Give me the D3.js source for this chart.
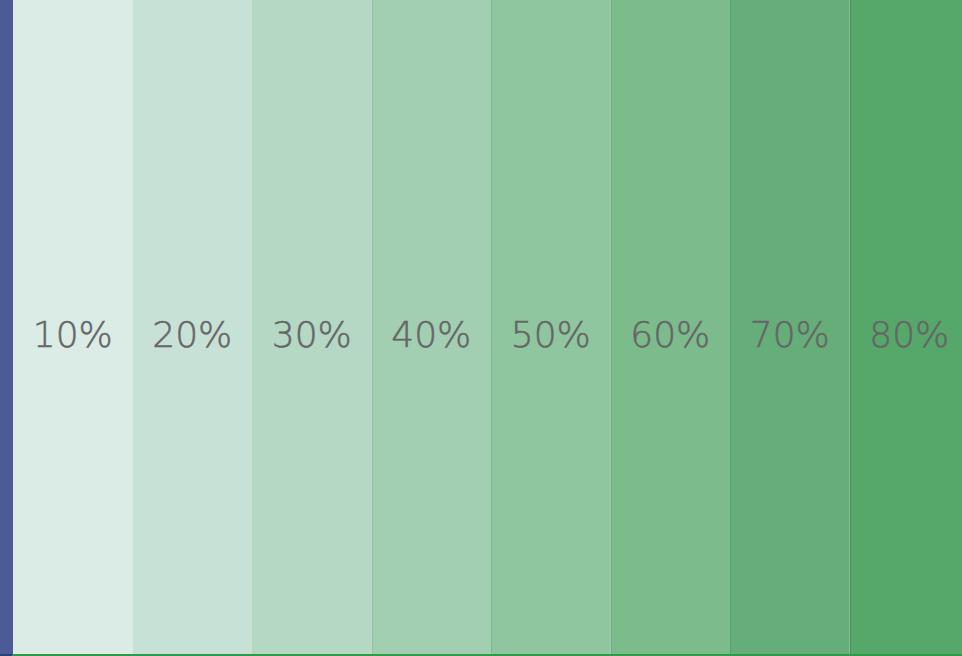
<!DOCTYPE html>
<html lang="en">
<head>
  <meta charset="utf-8">
  <title>Shades</title>
  <script src="https://d3js.org/d3.v7.min.js"></script>
  <style>
    html, body { margin: 0; padding: 0; background: #fff; overflow: hidden; }
  </style>
</head>
<body>
  <div id="stage"></div>
  <script>
    // strip labels and fill colours, light to dark
    var labels = ["10%", "20%", "30%", "40%", "50%", "60%", "70%", "80%"];
    var fills = ["#dbebe6", "#c8e1d6", "#b4d8c4", "#a2cfb2", "#8fc69f", "#7cbb8c", "#66ae79", "#55a869"];
    var edges = ["#dbebe6", "#c8e1d6", "#b4d8c4", "#8cc29e", "#7cb98c", "#6aae7a", "#58a169", "#43965a"];

    var W = 962, H = 656;
    var svg = d3.select("#stage").append("svg").attr("width", W).attr("height", H);

    var x = d3.scaleBand().domain(labels).range([13, 13 + 119.5 * 8]).padding(0);

    svg.selectAll("rect.strip").data(labels).enter().append("rect")
      .attr("class", "strip")
      .attr("x", function (d) { return x(d); })
      .attr("y", 0)
      .attr("width", x.bandwidth())
      .attr("height", 654)
      .style("fill", function (d, i) { return fills[i]; });

    // thin darker edge on the left of each strip
    svg.selectAll("line.edge").data(labels).enter().append("line")
      .attr("x1", function (d) { return Math.round(x(d)) + 0.5; })
      .attr("x2", function (d) { return Math.round(x(d)) + 0.5; })
      .attr("y1", 0).attr("y2", 654)
      .style("stroke", function (d, i) { return edges[i]; });

    svg.selectAll("text.lbl").data(labels).enter().append("text")
      .attr("class", "lbl")
      .attr("x", function (d) { return x(d) + x.bandwidth() / 2; })
      .attr("y", 347)
      .attr("text-anchor", "middle")
      .style("font-family", "'DejaVu Sans', sans-serif")
      .style("font-weight", 200)
      .style("font-size", "36px")
      .style("fill", "#666")
      .style("stroke", "#666")
      .style("stroke-width", 0.5)
      .text(function (d) { return d; });

    // blue marker on the left, green rule at the bottom
    svg.append("rect").attr("x", 0).attr("y", 0).attr("width", 13).attr("height", 654).style("fill", "#4c5a96");
    svg.append("rect").attr("x", 0).attr("y", 654).attr("width", 12).attr("height", 2).style("fill", "#2a3f80");
    svg.append("rect").attr("x", 12).attr("y", 654).attr("width", W - 12).attr("height", 2).style("fill", "#2f9a48");
  </script>
</body>
</html>
